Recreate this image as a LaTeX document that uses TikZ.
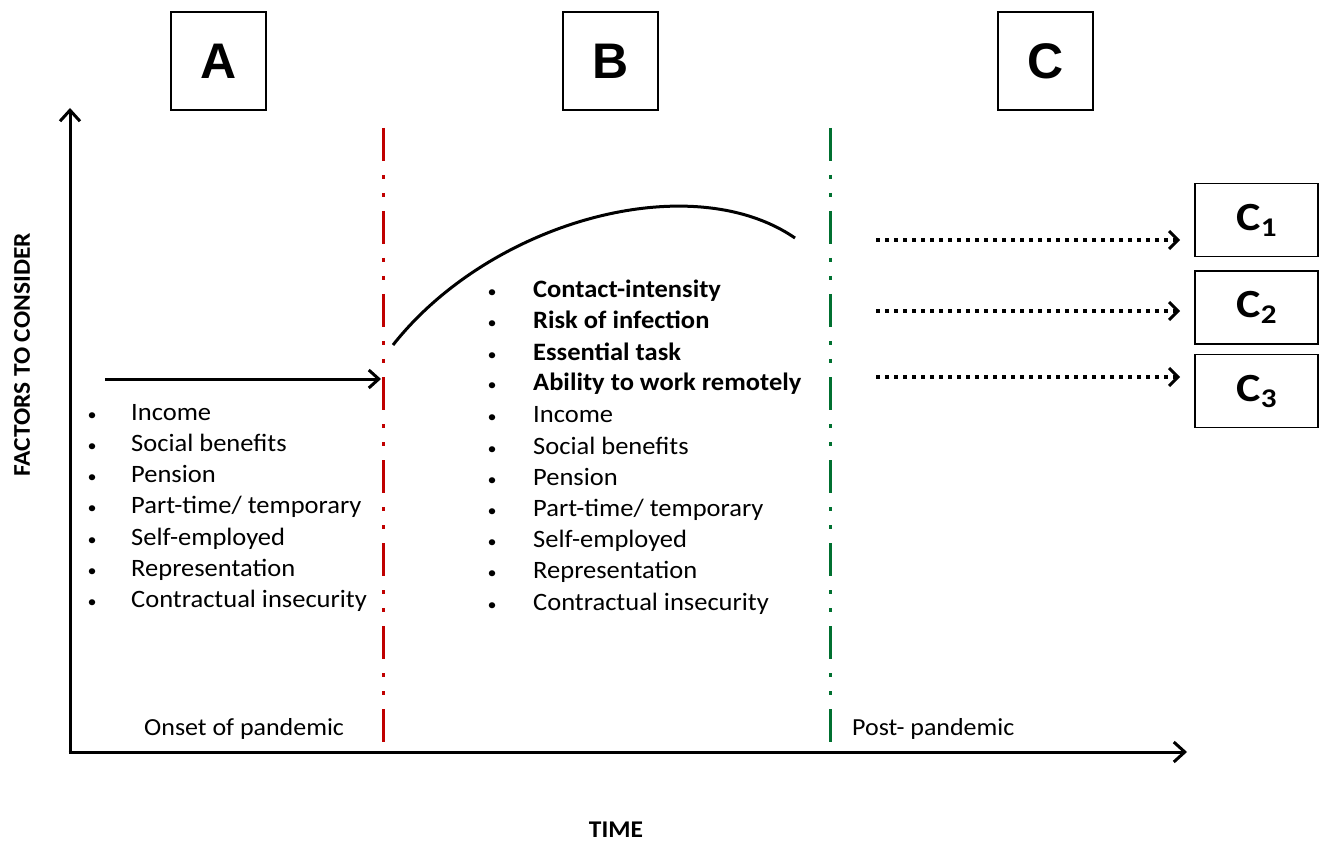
\documentclass[tikz,border=0pt]{standalone}
\usepackage{fontspec}
\setmainfont{Carlito}[FakeStretch=1.06]
\newfontfamily\arialfont{Liberation Sans}
\newfontfamily\cfont{Carlito}[FakeStretch=1.15]
\usetikzlibrary{arrows.meta}
\definecolor{pandred}{RGB}{192,0,0}
\definecolor{pandgreen}{RGB}{0,112,48}
\begin{document}
\begin{tikzpicture}[x=1pt,y=-1pt,
  letterbox/.style={draw,line width=1.6pt,minimum width=95pt,minimum height=98pt,inner sep=0pt,
    font=\arialfont\bfseries\fontsize{50}{50}\selectfont},
  cbox/.style={draw,line width=1.6pt,minimum width=123pt,minimum height=73pt,inner sep=0pt,
    font=\cfont\bfseries\fontsize{40}{40}\selectfont},
  axisline/.style={line width=3pt,-{Straight Barb[length=11pt,width=20pt,line width=3pt]}},
  phase/.style={line width=3pt,dash pattern=on 33pt off 14pt on 4pt off 14pt on 4pt off 14pt},
  dotarrow/.style={line width=3.5pt,dash pattern=on 3.5pt off 5.5pt,
    -{Straight Barb[length=9pt,width=18pt,line width=3pt]}},
  item/.style={anchor=base west,inner sep=0pt,font=\fontsize{25}{25}\selectfont},
  bolditem/.style={item,font=\bfseries\fontsize{25}{25}\selectfont},
  bul/.style={anchor=base,inner sep=0pt,font=\fontsize{17}{17}\selectfont},
  lbl/.style={inner sep=0pt,font=\fontsize{24.5}{24.5}\selectfont},
  axlbl/.style={inner sep=0pt,font=\bfseries\fontsize{24}{24}\selectfont}
]
\useasboundingbox (0,0) rectangle (1323,842);
\fill[white] (0,0) rectangle (1323,842);

% top letter boxes
\node[letterbox] (A) at (218.5,61) {A};
\node[letterbox] (B) at (610.5,61) {B};
\node[letterbox] (C) at (1045.5,61) {C};

% axes
\coordinate (O) at (70,752);
\coordinate (Ytop) at (70,108);
\coordinate (Xend) at (1187,752);
\draw[axisline] ([yshift=1.5pt]O) -- (Ytop);
\draw[axisline] ([xshift=-1.5pt]O) -- (Xend);

% phase lines
\coordinate (R1) at (383,128);
\coordinate (R2) at (383,752);
\coordinate (G1) at (830,128);
\coordinate (G2) at (830,752);
\draw[phase,pandred] (R1) -- (R2);
\draw[phase,pandgreen] (G1) -- (G2);

% solid arrow into pandemic
\coordinate (S1) at (105,379);
\coordinate (S2) at (381,379);
\draw[line width=3pt,-{Straight Barb[length=10pt,width=18pt,line width=3pt]}] (S1) -- (S2);

% curve
\coordinate (K1) at (393,345);
\coordinate (K2) at (795,238);
\draw[line width=3pt] (K1) .. controls (490,222) and (690,166) .. (K2);

% C boxes
\node[cbox] (C1) at (1256.5,220) {\raisebox{-0.22em}{C\raisebox{-0.15em}{\fontsize{27}{27}\selectfont 1}}};
\node[cbox] (C2) at (1256.5,307.5) {\raisebox{-0.22em}{C\raisebox{-0.15em}{\fontsize{27}{27}\selectfont 2}}};
\node[cbox] (C3) at (1256.5,391) {\raisebox{-0.28em}{C\raisebox{-0.15em}{\fontsize{27}{27}\selectfont 3}}};
\coordinate (D1) at (876,240);
\coordinate (D2) at (876,311);
\coordinate (D3) at (876,377);
\draw[dotarrow] (D1) -- ([xshift=-14pt]D1 -| C1.west);
\draw[dotarrow] (D2) -- ([xshift=-14pt]D2 -| C2.west);
\draw[dotarrow] (D3) -- ([xshift=-14pt]D3 -| C3.west);

% left list
\foreach \t [count=\i] in {Income,Social benefits,Pension,Part-time/ temporary,Self-employed,Representation,Contractual insecurity}{
  \node[bul] (lb\i) at (92,{420+(\i-1)*31.3}) {•};
  \node[item] (lt\i) at (131,{420+(\i-1)*31.3}) {\t};
}

% middle list
\foreach \t [count=\i] in {Contact-intensity,Risk of infection,Essential task,Ability to work remotely}{
  \node[bul] (mb\i) at (492,{298+(\i-1)*31}) {•};
  \node[bolditem] (mt\i) at (533,{298+(\i-1)*31}) {\t};
}
\foreach \t [count=\i from 5] in {Income,Social benefits,Pension,Part-time/ temporary,Self-employed,Representation,Contractual insecurity}{
  \node[bul] (mb\i) at (492,{298+(\i-1)*31.2}) {•};
  \node[item] (mt\i) at (533,{298+(\i-1)*31.2}) {\t};
}

% phase labels
\node[lbl,anchor=west] (onset) at (144,729) {Onset of pandemic};
\node[lbl,anchor=west] (post) at (852,729) {Post- pandemic};

% axis labels
\node[axlbl,rotate=90] (fac) at (22,355) {FACTORS TO CONSIDER};
\node[axlbl] (time) at (616,830) {TIME};
\end{tikzpicture}
\end{document}
